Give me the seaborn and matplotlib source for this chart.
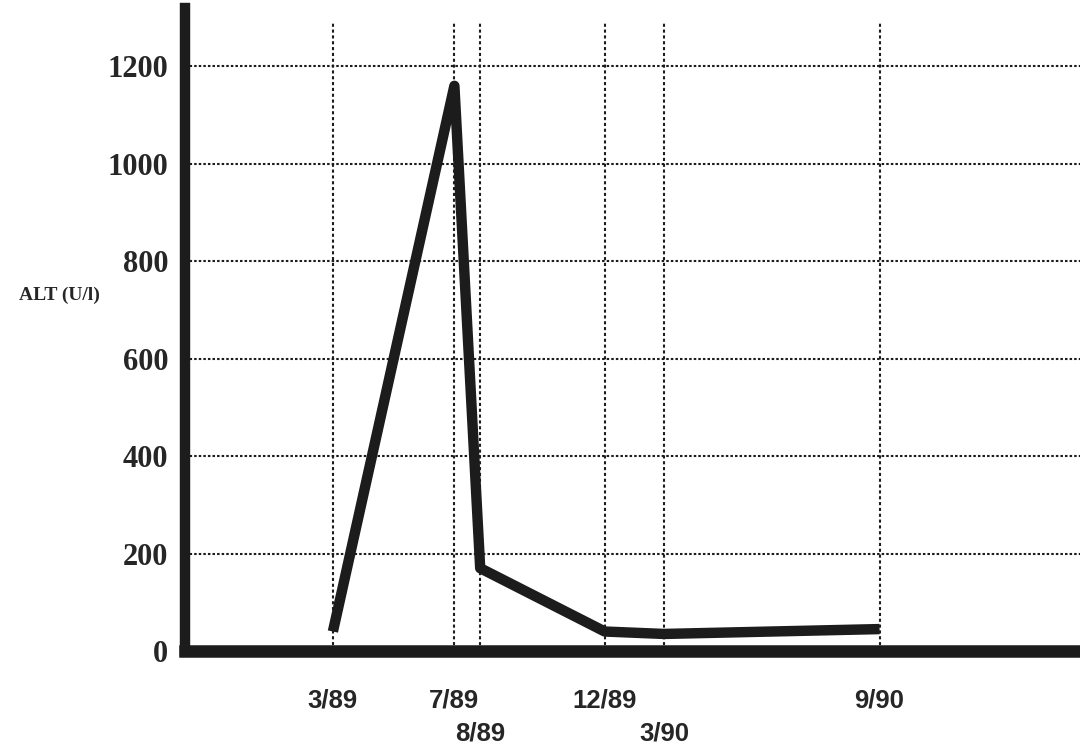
import matplotlib
matplotlib.use("Agg")
import matplotlib.pyplot as plt
import seaborn as sns
import pandas as pd

# Data (x = month index counted from 1/89)
dates = ["3/89", "7/89", "8/89", "12/89", "3/90", "9/90"]
month_pos = [3.0, 7.0, 7.85, 11.95, 13.9, 21.0]
alt_values = [40, 1160, 170, 40, 35, 45]
y_ticks = [0, 200, 400, 600, 800, 1000, 1200]
second_row = ["8/89", "3/90"]

df = pd.DataFrame({"month": month_pos, "ALT": alt_values})

sns.set_style("white")
plt.rcParams["font.family"] = ["Liberation Serif", "DejaVu Serif"]

fig = plt.figure(figsize=(10.8, 7.54), dpi=100)
ax = fig.add_axes([0.1713, 0.1366, 0.8287, 0.853])

ink = "#1c1c1c"

# horizontal dotted gridlines
for yv in y_ticks[1:]:
    ax.axhline(yv, color=ink, lw=1.5, ls=(0, (1.2, 1.0)), zorder=1)
# vertical dotted date lines
ax.vlines(month_pos, 0, 1290, colors=ink, lw=1.5, linestyles=[(0, (1.5, 1.3))], zorder=1)

sns.lineplot(data=df, x="month", y="ALT", ax=ax, color=ink, lw=7.5,
             solid_joinstyle="round", solid_capstyle="butt", zorder=3)

ax.set_xlim(-1.87, 27.6)
ax.set_ylim(0, 1320)

ax.set_yticks(y_ticks)
ax.set_yticklabels([str(v) for v in y_ticks], fontsize=22, fontweight="bold")

first_pos = [p for p, d in zip(month_pos, dates) if d not in second_row]
first_lab = [d for d in dates if d not in second_row]
second_pos = [p for p, d in zip(month_pos, dates) if d in second_row]
second_lab = [d for d in dates if d in second_row]

xfont = dict(fontsize=18.5, fontweight="bold", family=["Liberation Sans", "DejaVu Sans"])
ax.set_xticks(first_pos)
ax.set_xticklabels(first_lab, **xfont)
ax.set_xticks(second_pos, minor=True)
ax.set_xticklabels(second_lab, minor=True, **xfont)

ax.tick_params(axis="both", which="both", length=0)
ax.tick_params(axis="y", pad=12)
ax.tick_params(axis="x", which="major", pad=27)
ax.tick_params(axis="x", which="minor", pad=51)

ax.set_xlabel("")
ax.set_ylabel("ALT (U/l)", rotation=0, fontsize=14, fontweight="bold")
ax.yaxis.set_label_coords(-0.14, 0.54)

for side in ["top", "right"]:
    ax.spines[side].set_visible(False)
ax.spines["left"].set_linewidth(7.5)
ax.spines["bottom"].set_linewidth(9)
ax.spines["left"].set_color(ink)
ax.spines["bottom"].set_color(ink)
ax.spines["bottom"].set_zorder(4)
ax.spines["left"].set_zorder(4)

fig.savefig("out.png", dpi=100, facecolor="white")
